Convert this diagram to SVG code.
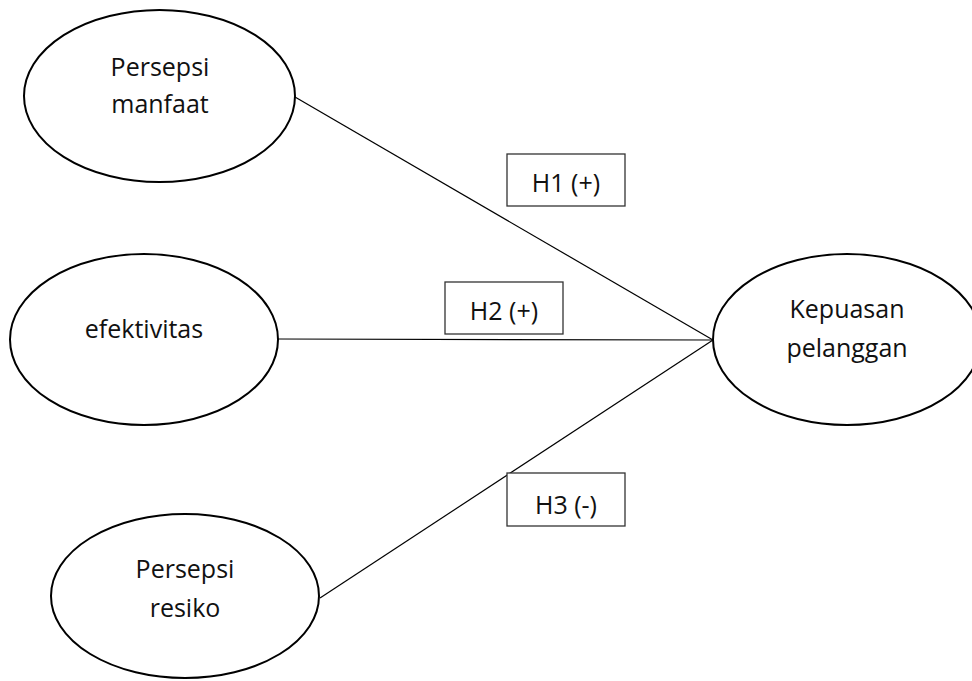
<svg xmlns="http://www.w3.org/2000/svg" width="972" height="681" viewBox="0 0 972 681">
<style>
.node ellipse{fill:#fff;stroke:#000;stroke-width:2}
.lbl{font-family:"Open Sans","Noto Sans",sans-serif;font-size:25px;fill:#111;text-anchor:middle}
.conn line{stroke:#000;stroke-width:1.2}
.hyp rect{fill:#fff;stroke:#333;stroke-width:1.3}
</style>
<rect width="972" height="681" fill="#fff"/>
<g id="connectors" class="conn">
<line x1="295" y1="97" x2="713" y2="340"/>
<line x1="278" y1="339" x2="713" y2="340"/>
<line x1="320" y1="598" x2="713" y2="340"/>
</g>
<g id="node-persepsi-manfaat" class="node">
<ellipse cx="159.5" cy="96" rx="135.5" ry="86"/>
<text class="lbl" x="160" y="76">Persepsi</text>
<text class="lbl" x="160" y="113">manfaat</text>
</g>
<g id="node-efektivitas" class="node">
<ellipse cx="144" cy="339.5" rx="134" ry="85.5"/>
<text class="lbl" x="144" y="338">efektivitas</text>
</g>
<g id="node-persepsi-resiko" class="node">
<ellipse cx="185" cy="596" rx="134" ry="82"/>
<text class="lbl" x="185" y="578">Persepsi</text>
<text class="lbl" x="185" y="617">resiko</text>
</g>
<g id="node-kepuasan-pelanggan" class="node">
<ellipse cx="847" cy="339.5" rx="134" ry="85.5"/>
<text class="lbl" x="847" y="318">Kepuasan</text>
<text class="lbl" x="847" y="357">pelanggan</text>
</g>
<g id="label-h1" class="hyp">
<rect x="507" y="154" width="118" height="52"/>
<text class="lbl" x="566" y="192">H1 (+)</text>
</g>
<g id="label-h2" class="hyp">
<rect x="445" y="282" width="118" height="52"/>
<text class="lbl" x="504" y="320">H2 (+)</text>
</g>
<g id="label-h3" class="hyp">
<rect x="507" y="473" width="118" height="53"/>
<text class="lbl" x="566" y="514">H3 (-)</text>
</g>
</svg>
